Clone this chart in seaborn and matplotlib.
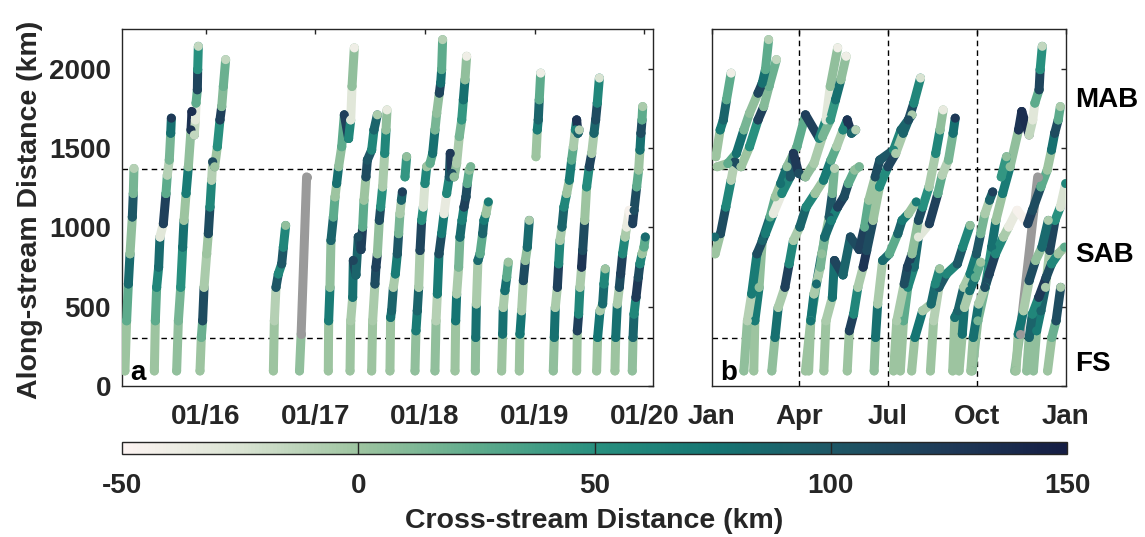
import numpy as np
import pandas as pd
import matplotlib
matplotlib.use("Agg")
import matplotlib.pyplot as plt
from matplotlib.collections import LineCollection
from matplotlib.colors import LinearSegmentedColormap, Normalize
from matplotlib.cm import ScalarMappable
import seaborn as sns

nan = np.nan

# glider tracks: (decimal year, along-stream km, cross-stream km)
track_a1 = [(2015.264, 95, 0), (2015.279, 411, 25), (2015.295, 643, 85), (2015.310, 833, 5),
            (2015.331, 1065, 100), (2015.340, 1213, 15), (2015.346, 1371, -10)]
track_a2 = [(2015.532, 95, 0), (2015.541, 411, 25), (2015.553, 622, 60), (2015.571, 749, 85),
            (2015.583, 939, -30), (2015.614, 1023, 120), (2015.638, 1213, 25), (2015.650, 1329, -10),
            (2015.668, 1424, 15), (2015.681, 1593, 80), (2015.687, 1688, 125)]
track_a3 = [(2015.735, 95, 5), (2015.751, 411, 15), (2015.772, 622, 50), (2015.790, 875, 80),
            (2015.802, 1044, 0), (2015.821, 1213, 70), (2015.842, 1382, 5), (2015.866, 1614, 130),
            (2015.875, 1730, 135), (2015.896, 1582, -15), (2015.906, 1677, -30), (2015.912, 1783, 25),
            (2015.924, 1867, 115), (2015.927, 1994, 50), (2015.933, 2141, -15)]
track_a4 = [(2015.948, 95, 0), (2015.960, 306, 20), (2015.972, 411, 110), (2015.985, 622, -5),
            (2016.009, 833, 0), (2016.024, 960, 110), (2016.039, 1128, 60), (2016.054, 1297, -10),
            (2016.064, 1413, 110), (2016.082, 1382, 0), (2016.106, 1508, 50), (2016.130, 1677, 120),
            (2016.146, 1761, 10), (2016.161, 1888, 20), (2016.182, 2057, -15)]
track_a5 = [(2016.617, 95, 0), (2016.626, 411, -10), (2016.641, 622, 100), (2016.662, 706, 60),
            (2016.693, 770, 100), (2016.708, 875, 60), (2016.729, 1012, 5)]
track_grey = [(2016.855, 95, 5), (2016.870, 327, nan), (2016.920, 1318, nan)]
track_b1 = [(2017.118, 95, 0), (2017.121, 411, 70), (2017.133, 622, 5), (2017.142, 917, 90),
            (2017.164, 1065, 25), (2017.179, 1192, 0), (2017.194, 1276, 80), (2017.212, 1382, 5),
            (2017.240, 1508, 25), (2017.264, 1709, 120), (2017.303, 1560, 60), (2017.322, 1677, -30),
            (2017.334, 1888, 5), (2017.355, 2131, -40)]
track_b2 = [(2017.316, 95, 0), (2017.322, 411, -5), (2017.340, 559, 80), (2017.346, 791, 115),
            (2017.370, 700, 90), (2017.391, 939, 110), (2017.416, 860, 120), (2017.431, 1002, 25),
            (2017.443, 1171, 0), (2017.461, 1318, 110), (2017.474, 1424, 100), (2017.513, 1487, 60),
            (2017.534, 1614, 90), (2017.565, 1709, -5)]
track_b3 = [(2017.513, 95, 0), (2017.522, 411, -5), (2017.543, 643, 110), (2017.552, 749, 120),
            (2017.565, 833, 5), (2017.583, 1044, 110), (2017.595, 1128, 50), (2017.613, 1255, -5),
            (2017.632, 1466, 60), (2017.644, 1614, 5), (2017.653, 1740, -35)]
track_b4 = [(2017.680, 95, 0), (2017.686, 432, 80), (2017.695, 474, 90), (2017.711, 622, -5),
            (2017.729, 706, 70), (2017.747, 833, 100), (2017.759, 960, 15), (2017.771, 1086, -5),
            (2017.784, 1171, 90), (2017.793, 1223, 120)]
track_d1 = [(2017.817, 1318, 45), (2017.832, 1445, 5)]
track_b5 = [(2017.908, 95, 5), (2017.917, 348, 70), (2017.929, 474, 90), (2017.942, 622, -5),
            (2017.954, 854, 115), (2017.969, 1044, 50), (2017.984, 1128, -25), (2017.999, 1276, 60),
            (2018.015, 1382, 0), (2018.045, 1403, 25), (2018.069, 1466, 80), (2018.090, 1614, 15),
            (2018.106, 1719, 5), (2018.130, 1846, 115), (2018.142, 1909, 80), (2018.151, 1994, 25),
            (2018.160, 2183, -10)]
track_b6 = [(2018.090, 95, 5), (2018.100, 411, -10), (2018.112, 580, 70), (2018.127, 833, 110),
            (2018.151, 960, 70), (2018.173, 1086, -35), (2018.197, 1213, 60), (2018.221, 1318, 100),
            (2018.230, 1466, 125), (2018.245, 1340, 110), (2018.264, 1318, 5), (2018.288, 1403, -5),
            (2018.312, 1572, 15), (2018.334, 1677, 45), (2018.349, 1804, 80), (2018.364, 1930, 5),
            (2018.379, 2078, -40)]
track_b7 = [(2018.273, 95, 0), (2018.279, 411, 75), (2018.288, 580, -5), (2018.306, 749, 15),
            (2018.318, 938, 85), (2018.337, 1044, 65), (2018.355, 1128, 120), (2018.373, 1192, 110),
            (2018.385, 1276, 25), (2018.403, 1361, 5), (2018.416, 1382, 15)]
track_b8 = [(2018.458, 95, 5), (2018.462, 306, 80), (2018.468, 517, -5), (2018.482, 791, 85),
            (2018.501, 833, 25), (2018.525, 960, 90), (2018.537, 1044, 70), (2018.555, 1086, 0),
            (2018.577, 1160, 70)]
track_c1 = [(2018.698, 95, 0), (2018.707, 327, 80), (2018.713, 495, -5), (2018.728, 601, 80),
            (2018.744, 685, 25), (2018.759, 780, 0)]
track_c2 = [(2018.859, 95, 0), (2018.865, 327, 75), (2018.880, 474, -5), (2018.896, 664, 110),
            (2018.914, 791, 5), (2018.932, 875, 85), (2018.950, 1044, -5)]
track_c3 = [(2019.011, 1445, 0), (2019.023, 1614, 70), (2019.032, 1677, 90), (2019.041, 1804, 25),
            (2019.054, 1972, -40)]
track_c4 = [(2019.169, 95, 5), (2019.178, 306, 80), (2019.187, 495, -5), (2019.206, 622, 120),
            (2019.218, 770, 60), (2019.230, 917, -5), (2019.248, 1002, 90), (2019.266, 1128, 60),
            (2019.291, 1213, 0), (2019.315, 1297, 70), (2019.336, 1424, 25), (2019.352, 1508, -5),
            (2019.370, 1614, 60), (2019.382, 1677, 130), (2019.394, 1593, 90), (2019.406, 1614, -10)]
track_c5 = [(2019.382, 95, 0), (2019.388, 348, 120), (2019.400, 453, 60), (2019.412, 622, -5),
            (2019.427, 749, 130), (2019.437, 854, 110), (2019.455, 1044, 0), (2019.473, 1255, 55),
            (2019.497, 1382, 115), (2019.519, 1466, -5), (2019.540, 1593, 90), (2019.555, 1677, 110),
            (2019.570, 1783, 60), (2019.589, 1941, -25)]
track_c6 = [(2019.564, 95, 0), (2019.573, 306, 75), (2019.595, 474, -5), (2019.619, 517, 85),
            (2019.631, 643, 60), (2019.643, 738, 0)]
track_c7 = [(2019.731, 95, 0), (2019.738, 306, 80), (2019.753, 517, -5), (2019.771, 622, 110),
            (2019.783, 706, 120), (2019.801, 833, 60), (2019.823, 939, -5), (2019.838, 1002, -35),
            (2019.862, 1107, -45), (2019.892, 1023, 120), (2019.905, 1107, 110), (2019.929, 1255, 25),
            (2019.947, 1361, 0), (2019.959, 1487, 80), (2019.968, 1593, 110), (2019.978, 1677, 25),
            (2019.984, 1761, -5)]
track_c8 = [(2019.889, 95, 5), (2019.896, 306, 90), (2019.905, 453, 60), (2019.923, 559, 125),
            (2019.944, 685, 110), (2019.959, 770, 60), (2019.978, 833, 0), (2019.996, 875, 25),
            (2020.008, 939, 85)]

tracks = [track_a1, track_a2, track_a3, track_a4, track_a5, track_grey,
          track_b1, track_b2, track_b3, track_b4, track_d1, track_b5, track_b6, track_b7, track_b8,
          track_c1, track_c2, track_c3, track_c4, track_c5, track_c6, track_c7, track_c8]

region_bounds = [300, 1365]
region_names = ["MAB", "SAB", "FS"]
region_y = [1804, 823, 139]
year_ticks = [2016, 2017, 2018, 2019, 2020]
year_labels = ["01/16", "01/17", "01/18", "01/19", "01/20"]
month_ticks = [0, 90, 181, 273, 365]
month_labels = ["Jan", "Apr", "Jul", "Oct", "Jan"]
cbar_ticks = [-50, 0, 50, 100, 150]

cmap = LinearSegmentedColormap.from_list("tempo", [
    (0.0, "#fdf4f2"), (0.125, "#d9e3d2"), (0.25, "#9dc4a0"), (0.375, "#5eab8c"),
    (0.5, "#28907f"), (0.625, "#157673"), (0.75, "#1e5866"), (0.875, "#1f3a58"),
    (1.0, "#151d44")])
norm = Normalize(-50, 150)
GREY = "#9a9a9a"
INK = "#262626"

sns.set_style("white")
plt.rcParams["font.family"] = ["Liberation Sans", "DejaVu Sans"]
plt.rcParams["font.weight"] = "bold"
plt.rcParams["font.size"] = 20
plt.rcParams["axes.unicode_minus"] = False


def draw_tracks(ax, fold):
    segs, cols, rows = [], [], []
    for tr in tracks:
        t = np.array([n[0] for n in tr])
        km = np.array([n[1] for n in tr], dtype=float)
        xs = np.array([n[2] for n in tr], dtype=float)
        x = (t - np.floor(t)) * 365 if fold else t
        for i in range(len(tr) - 1):
            if fold and np.floor(t[i + 1]) != np.floor(t[i]):
                continue
            segs.append([(x[i], km[i]), (x[i + 1], km[i + 1])])
            # colour holds from one reading to the next
            cols.append(GREY if np.isnan(xs[i]) else cmap(norm(xs[i])))
        for i in range(len(tr)):
            rows.append((x[i], km[i], xs[i]))
    lc = LineCollection(segs, colors=cols, linewidths=6.5, capstyle="round",
                        joinstyle="round", zorder=3)
    ax.add_collection(lc)
    df = pd.DataFrame(rows, columns=["x", "km", "xs"])
    ok = df.dropna()
    sns.scatterplot(data=ok, x="x", y="km", hue="xs", palette=cmap, hue_norm=norm,
                    s=42, linewidth=0, legend=False, ax=ax, zorder=4)
    bad = df[df["xs"].isna()]
    ax.scatter(bad["x"], bad["km"], s=42, color=GREY, linewidth=0, zorder=4)
    ax.set_xlabel("")
    ax.set_ylabel("")


fig = plt.figure(figsize=(11.45, 5.37), dpi=100)
ax_a = fig.add_axes([122 / 1145, 1 - 386 / 537, 531 / 1145, 357 / 537])
ax_b = fig.add_axes([712 / 1145, 1 - 386 / 537, 354 / 1145, 357 / 537])

draw_tracks(ax_a, False)
draw_tracks(ax_b, True)

for ax in (ax_a, ax_b):
    ax.set_ylim(0, 2250)
    ax.set_yticks([0, 500, 1000, 1500, 2000])
    for b in region_bounds:
        ax.axhline(b, color="k", lw=1, ls=(0, (4, 3)), zorder=1)
    for s in ax.spines.values():
        s.set_color(INK)
        s.set_linewidth(1)
    ax.tick_params(direction="in", length=3.6, width=1, color=INK, labelcolor=INK,
                   top=True, right=True, labelsize=20)
    ax.tick_params(axis="x", pad=13)
    ax.tick_params(axis="y", pad=8)

ax_a.set_xlim(2015.237, 2020.078)
ax_a.set_xticks(year_ticks)
ax_a.set_xticklabels(year_labels)

ax_b.set_xlim(0, 365)
ax_b.set_xticks(month_ticks)
ax_b.set_xticklabels(month_labels)
ax_b.tick_params(labelleft=False)
for m in month_ticks[1:-1]:
    ax_b.axvline(m, color="k", lw=1, ls=(0, (4, 3)), zorder=1)

ax_a.text(0.015, 0.017, "a", transform=ax_a.transAxes, fontsize=20, fontweight="bold",
          color="k", va="baseline", zorder=6)
ax_b.text(0.023, 0.017, "b", transform=ax_b.transAxes, fontsize=20, fontweight="bold",
          color="k", va="baseline", zorder=6)
for name, yv in zip(region_names, region_y):
    ax_b.text(1.025, yv, name, transform=ax_b.get_yaxis_transform(), fontsize=20,
              fontweight="bold", color="k", va="center", ha="left")

fig.text(30 / 1145, 1 - 210 / 537, "Along-stream Distance (km)", rotation=90,
         ha="center", va="center", fontsize=20.5, fontweight="bold", color=INK)

cax = fig.add_axes([122 / 1145, 1 - 454 / 537, 945 / 1145, 12 / 537])
cb = fig.colorbar(ScalarMappable(norm=norm, cmap=cmap), cax=cax, orientation="horizontal")
cb.set_ticks(cbar_ticks)
cb.ax.tick_params(direction="in", length=0, labelcolor=INK, labelsize=20, pad=14)
for v in cbar_ticks[1:-1]:
    cax.axvline(v, color=INK, lw=1)
cb.outline.set_edgecolor(INK)
cb.outline.set_linewidth(1)
fig.text(594 / 1145, 1 - 521 / 537, "Cross-stream Distance (km)", ha="center", va="center",
         fontsize=20.5, fontweight="bold", color=INK)

fig.savefig("out.png", dpi=100)
